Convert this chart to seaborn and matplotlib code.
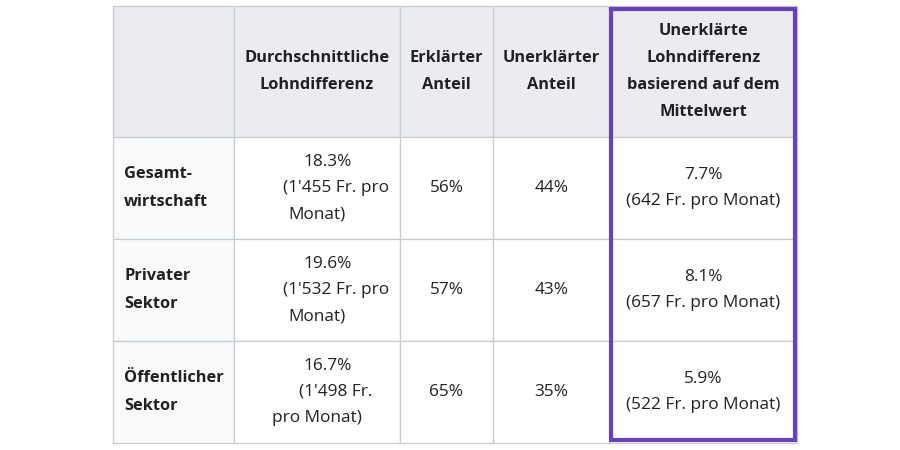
import matplotlib
matplotlib.use("Agg")
import matplotlib.pyplot as plt
from matplotlib.patches import Rectangle
import seaborn as sns

# ---- data ----
col_labels = ["", "Durchschnittliche\nLohndifferenz", "Erklärter\nAnteil",
              "Unerklärter\nAnteil",
              "Unerklärte\nLohndifferenz\nbasierend auf dem\nMittelwert"]
row_labels = ["Gesamt-\nwirtschaft", "Privater\nSektor", "Öffentlicher\nSektor"]
avg_gap = ["18.3%\n(1'455 Fr. pro\nMonat)",
           "19.6%\n(1'532 Fr. pro\nMonat)",
           "16.7%\n(1'498 Fr.\npro Monat)"]
explained = ["56%", "57%", "65%"]
unexplained = ["44%", "43%", "35%"]
unexplained_mean = ["7.7%\n(642 Fr. pro Monat)",
                    "8.1%\n(657 Fr. pro Monat)",
                    "5.9%\n(522 Fr. pro Monat)"]

# ---- layout (pixels) ----
col_edges = [113, 234, 400, 493, 610, 797]
row_edges = [6, 137, 239, 341, 443]
# ragged wrapping of the second column (per-line horizontal nudge, px)
avg_line_shift = [11, 19, 0]
HEADER_BG = "#eaecf0"
ROWHEAD_BG = "#f8f9fa"
CELL_BG = "#ffffff"
GRID = "#c8ccd1"
TEXT = "#202122"
PURPLE = "#6b3fc0"
FS_BODY = 12.4
FS_BOLD = 11.8
LH_BODY = 26.5
LH_BOLD = 27.0

sns.set_theme(style="white")
plt.rcParams["font.family"] = ["Open Sans", "DejaVu Sans"]

fig = plt.figure(figsize=(9, 4.5), dpi=100)
ax = fig.add_axes([0, 0, 1, 1])
ax.set_xlim(0, 900)
ax.set_ylim(450, 0)
ax.axis("off")

columns = [row_labels, avg_gap, explained, unexplained, unexplained_mean]


def draw_lines(x, cy, txt, lh, shifts=None, **kw):
    lines = txt.split("\n")
    n = len(lines)
    for i, line in enumerate(lines):
        dx = shifts[i] if shifts else 0
        ax.text(x + dx, cy + (i - (n - 1) / 2) * lh, line, va="center", **kw)


for r in range(4):
    for c in range(5):
        x0, x1 = col_edges[c], col_edges[c + 1]
        y0, y1 = row_edges[r], row_edges[r + 1]
        if r == 0:
            bg = HEADER_BG
        elif c == 0:
            bg = ROWHEAD_BG
        else:
            bg = CELL_BG
        ax.add_patch(Rectangle((x0, y0), x1 - x0, y1 - y0, facecolor=bg,
                               edgecolor=GRID, linewidth=0.9))
        cy = (y0 + y1) / 2
        if r == 0:
            txt = col_labels[c]
            if txt:
                draw_lines((x0 + x1) / 2, cy, txt, LH_BOLD, ha="center",
                           fontsize=FS_BOLD, fontweight="bold", color=TEXT)
        else:
            txt = columns[c][r - 1]
            if c == 0:
                draw_lines(x0 + 11, cy, txt, LH_BOLD, ha="left",
                           fontsize=FS_BOLD, fontweight="bold", color=TEXT)
            else:
                shifts = avg_line_shift if c == 1 else None
                draw_lines((x0 + x1) / 2, cy, txt, LH_BODY, shifts=shifts,
                           ha="center", fontsize=FS_BODY, color=TEXT)

# highlighted column
ax.add_patch(Rectangle((610.5, 8.5), 795 - 610.5, 440 - 8.5, facecolor="none",
                       edgecolor=PURPLE, linewidth=3, zorder=5))

fig.savefig("out.png", dpi=100, facecolor="white")
